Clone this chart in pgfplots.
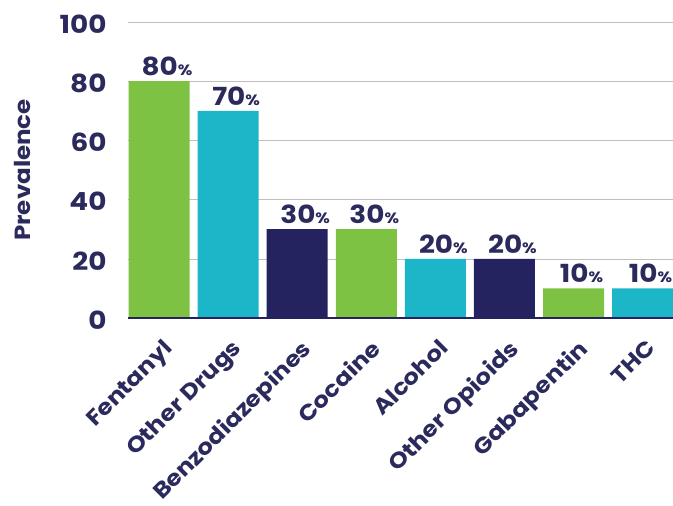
\documentclass[border=0pt]{standalone}
\usepackage{pgfplots}
\pgfplotsset{compat=1.18}
\usepackage{fontspec}
\setmainfont{Poppins}[BoldFont={* Bold}, FakeStretch=1.12]
\definecolor{cgreen}{HTML}{7DC242}
\definecolor{cteal}{HTML}{1DB6C8}
\definecolor{cnavy}{HTML}{24235F}
\definecolor{ctext}{HTML}{2B2A5C}
\begin{document}
\begin{tikzpicture}
\path[use as bounding box] (-128bp,-188bp) rectangle (545bp,318bp);
\clip (-128bp,-188bp) rectangle (545bp,318bp);
\begin{axis}[
  scale only axis,
  width=545bp, height=296bp,
  at={(0,0)}, anchor=south west,
  xmin=-0.45, xmax=7.44,
  ymin=0, ymax=100,
  ytick={0,20,40,60,80,100},
  xtick={0,...,7},
  xticklabels={Fentanyl,Other Drugs,Benzodiazepines,Cocaine,Alcohol,Other Opioids,Gabapentin,THC},
  axis line style={draw=none},
  axis x line*=bottom,
  major tick length=0pt,
  ymajorgrids,
  grid style={draw=black!25, line width=0.6bp},
  yticklabel style={font=\fontsize{25}{25}\selectfont\bfseries, text=ctext, xshift=-18bp, yshift=-2bp},
  xticklabel style={font=\fontsize{22}{22}\selectfont\bfseries, text=ctext, xshift=3bp, yshift=-15bp, rotate=45, anchor=north east},
  ylabel={Prevalence},
  ylabel style={font=\fontsize{22}{22}\selectfont\bfseries, text=ctext, at={(axis description cs:0,0.5)}, anchor=center, yshift=106bp},
  /pgf/number format/assume math mode=true,
  ybar, bar width=61bp, bar shift=0pt,
  nodes near coords={\pgfmathprintnumber{\pgfplotspointmeta}{\fontsize{15}{15}\selectfont\%}},
  nodes near coords style={font=\fontsize{25}{25}\selectfont\bfseries, text=ctext, yshift=2bp, xshift=8bp},
]
\addplot[fill=cgreen, draw=none] coordinates {(0,80) (3,30) (6,10)};
\addplot[fill=cteal, draw=none] coordinates {(1,70) (4,20) (7,10)};
\addplot[fill=cnavy, draw=none] coordinates {(2,30) (5,20)};
\draw[cnavy, line width=1.5bp] (axis cs:-0.45,0) -- (axis cs:7.44,0);
\end{axis}
\end{tikzpicture}
\end{document}
